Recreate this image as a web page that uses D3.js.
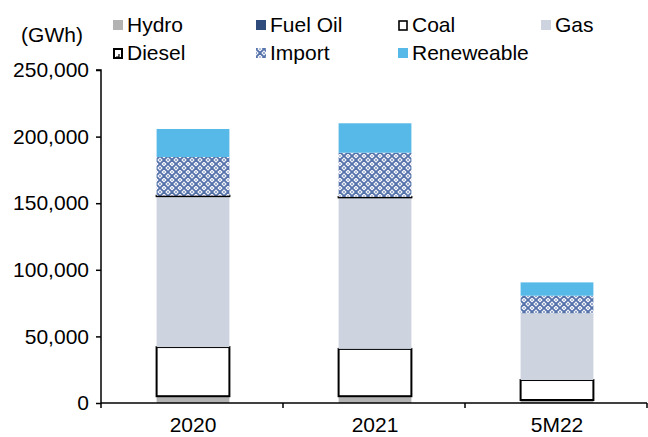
<!DOCTYPE html>
<html>
<head>
<meta charset="utf-8">
<script src="https://cdn.jsdelivr.net/npm/d3@7"></script>
<style>
  html, body { margin: 0; padding: 0; background: #fff; }
  svg { display: block; font-family: "Liberation Sans", Arial, sans-serif; }
</style>
</head>
<body>
<svg id="chart" width="648" height="437"></svg>
<script>
// Electricity supply by source (GWh)
const categories = ["2020", "2021", "5M22"];
const seriesNames = ["Hydro", "Fuel Oil", "Coal", "Gas", "Diesel", "Import", "Reneweable"];
const hydro      = [5000, 5000, 2200];
const fuelOil    = [100, 100, 50];
const coal       = [36900, 35500, 15000];
const gas        = [113300, 113800, 50100];
const diesel     = [300, 300, 0];
const imports    = [29100, 33200, 13200];
const renewable  = [21000, 22100, 10000];
const yTicks     = [0, 50000, 100000, 150000, 200000, 250000];

const seriesValues = [hydro, fuelOil, coal, gas, diesel, imports, renewable];
const rows = categories.map((c, i) => {
  const r = { category: c };
  seriesNames.forEach((s, k) => { r[s] = seriesValues[k][i]; });
  return r;
});

const FS = 21;
const svg = d3.select("#chart");

// Diamond-lattice fill used for imports
const defs = svg.append("defs");
const pat = defs.append("pattern")
  .attr("id", "importPattern")
  .attr("patternUnits", "userSpaceOnUse")
  .attr("width", 8).attr("height", 8);
pat.append("rect").attr("width", 8).attr("height", 8).attr("fill", "#ffffff");
pat.append("path")
  .attr("d", "M0,4 L4,0 L8,4 L4,8 Z")
  .attr("fill", "none").attr("stroke", "#5572aa").attr("stroke-width", 1.8);
pat.append("path")
  .attr("d", "M0,0 L1.4,0 L0,1.4 Z M8,0 L6.6,0 L8,1.4 Z M0,8 L1.4,8 L0,6.6 Z M8,8 L6.6,8 L8,6.6 Z")
  .attr("fill", "#8499c4");
pat.append("circle").attr("cx", 4).attr("cy", 4).attr("r", 1.1).attr("fill", "#a9b8d6");

const style = {
  "Hydro":      { fill: "#b3b3b3", stroke: "none" },
  "Fuel Oil":   { fill: "#2f4b7c", stroke: "none" },
  "Coal":       { fill: "#ffffff", stroke: "#000000" },
  "Gas":        { fill: "#cdd3df", stroke: "none" },
  "Diesel":     { fill: "#ffffff", stroke: "#000000" },
  "Import":     { fill: "url(#importPattern)", stroke: "none" },
  "Reneweable": { fill: "#56b9e7", stroke: "none" }
};

const plotLeft = 101, plotRight = 647, plotTop = 70, plotBottom = 403;

const x = d3.scaleBand().domain(categories).range([plotLeft, plotRight]).padding(0);
const y = d3.scaleLinear().domain([0, 250000]).range([plotBottom, plotTop]);
const barW = x.bandwidth() * 0.4;

const stacked = d3.stack().keys(seriesNames)(rows);

const g = svg.append("g");
stacked.forEach(layer => {
  const st = style[layer.key];
  g.append("g")
    .selectAll("rect")
    .data(layer.filter(d => d[1] - d[0] > 0))
    .join("rect")
    .attr("x", d => x(d.data.category) + (x.bandwidth() - barW) / 2 + 1)
    .attr("width", barW)
    .attr("y", d => y(d[1]))
    .attr("height", d => y(d[0]) - y(d[1]))
    .attr("fill", st.fill)
    .attr("stroke", st.stroke)
    .attr("stroke-width", st.stroke === "none" ? 0 : 2);
});

// Y axis
const yAxis = d3.axisLeft(y).tickValues(yTicks).tickSize(5).tickPadding(7)
  .tickFormat(d3.format(","));
const ya = svg.append("g").attr("transform", `translate(${plotLeft},0)`).call(yAxis);
ya.select(".domain").attr("d", `M-5,${plotTop}H0V${plotBottom + 5}`).attr("stroke", "#000").attr("stroke-width", 1.5);
ya.selectAll(".tick line").attr("stroke", "#000").attr("stroke-width", 1.5);
ya.selectAll(".tick text").attr("font-size", FS).attr("fill", "#000")
  .attr("font-family", "Liberation Sans, Arial, sans-serif");

// X axis with ticks on category boundaries
const xa = svg.append("g").attr("transform", `translate(0,${plotBottom})`);
xa.append("line").attr("x1", plotLeft).attr("x2", plotRight).attr("stroke", "#000").attr("stroke-width", 1.5);
const bounds = categories.map(c => x(c)).concat([x(categories[categories.length - 1]) + x.bandwidth()]);
xa.selectAll("line.bt").data(bounds.slice(1)).join("line")
  .attr("class", "bt")
  .attr("x1", d => d).attr("x2", d => d).attr("y1", 0).attr("y2", 5)
  .attr("stroke", "#000").attr("stroke-width", 1.5);
xa.selectAll("text").data(categories).join("text")
  .attr("x", d => x(d) + x.bandwidth() / 2 + 1)
  .attr("y", 29)
  .attr("text-anchor", "middle")
  .attr("font-size", FS)
  .attr("fill", "#000")
  .text(d => d);

// Unit label
svg.append("text").attr("x", 52).attr("y", 42).attr("text-anchor", "middle")
  .attr("font-size", FS).text("(GWh)");

// Legend
const legendPos = [
  [113, 25], [256, 25], [398, 25], [541, 25],
  [113, 53], [256, 53], [398, 53]
];
const lg = svg.append("g");
seriesNames.forEach((name, i) => {
  const [lx, ly] = legendPos[i];
  const st = style[name];
  const item = lg.append("g").attr("transform", `translate(${lx},${ly})`);
  if (name === "Coal") {
    item.append("rect").attr("x", 1).attr("y", -4).attr("width", 8).attr("height", 9)
      .attr("fill", "#fff").attr("stroke", "#000").attr("stroke-width", 1.6);
  } else if (name === "Diesel") {
    item.append("rect").attr("x", 1).attr("y", -4).attr("width", 8).attr("height", 9)
      .attr("fill", "#fff").attr("stroke", "#000").attr("stroke-width", 2);
    item.append("path").attr("d", "M6,1 L6,4 L3,4").attr("fill", "none")
      .attr("stroke", "#000").attr("stroke-width", 1.2);
  } else {
    item.append("rect").attr("x", 0).attr("y", -5).attr("width", 10).attr("height", 10)
      .attr("fill", st.fill);
  }
  item.append("text").attr("x", 14).attr("y", 7).attr("font-size", FS).attr("fill", "#000").text(name);
});
</script>
</body>
</html>
